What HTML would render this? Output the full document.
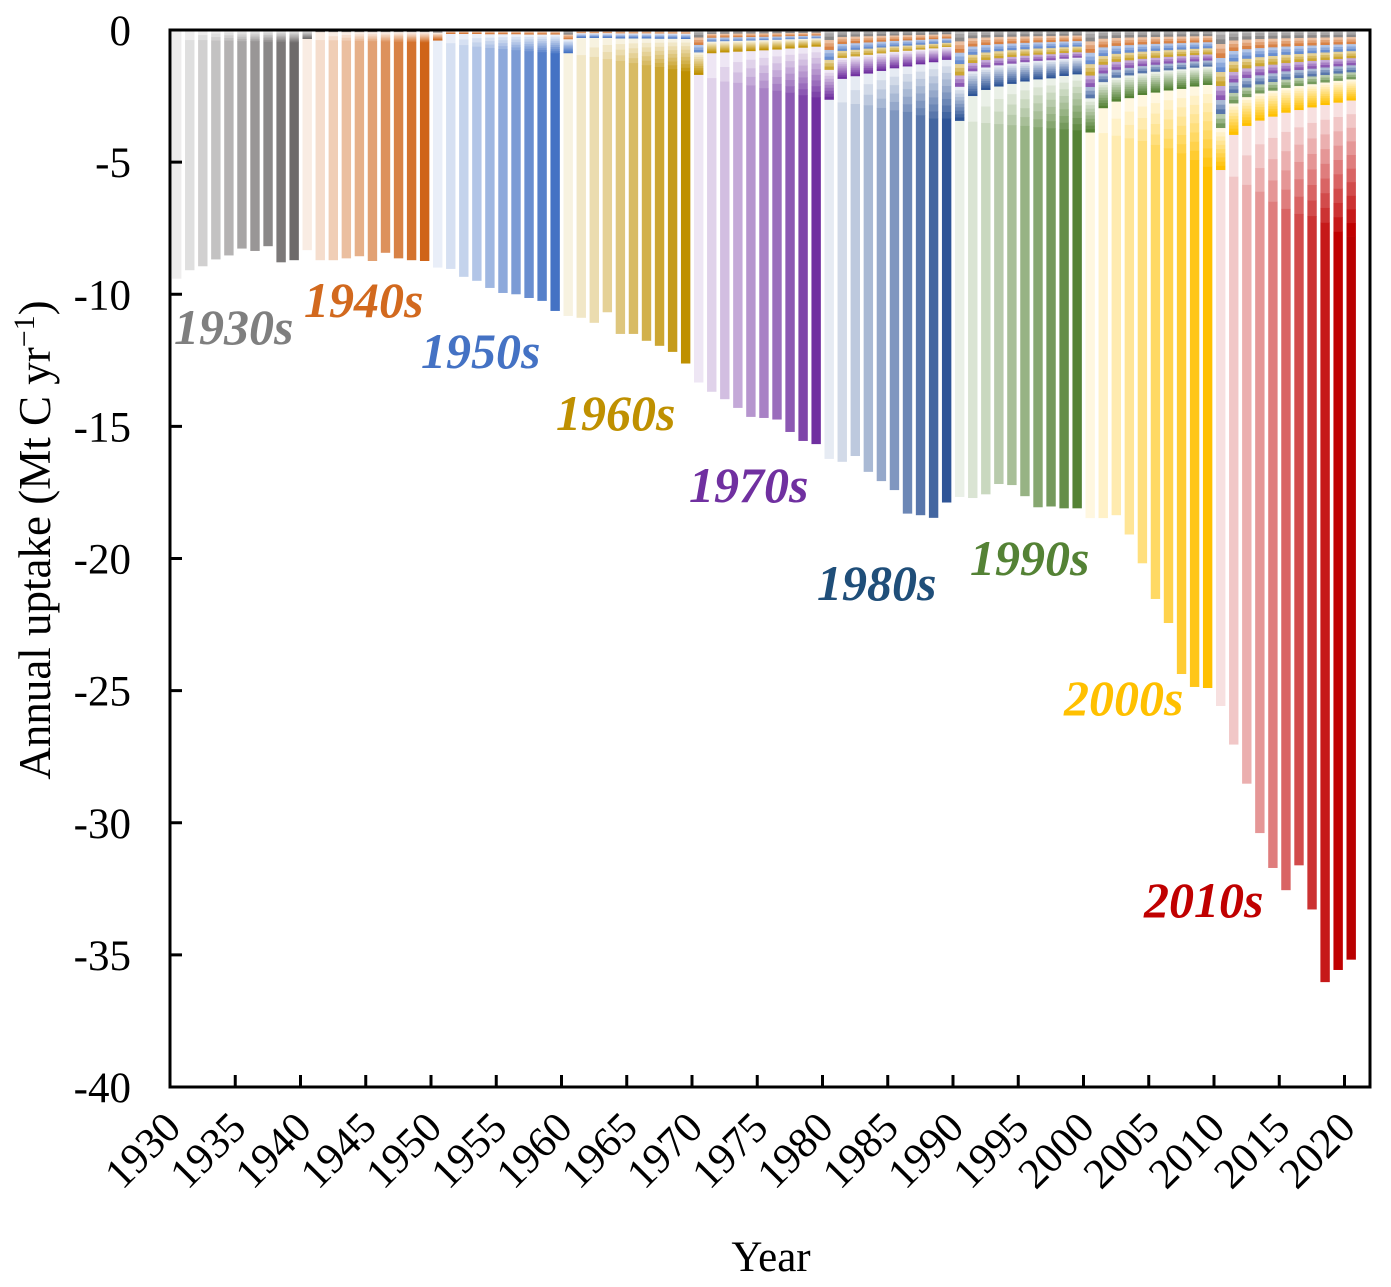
<!DOCTYPE html>
<html><head><meta charset="utf-8"><style>
html,body{margin:0;padding:0;background:#fff;}
svg{display:block;font-family:"Liberation Serif","Times New Roman",serif;}
</style></head><body>
<svg id="chart" width="1391" height="1287" viewBox="0 0 1391 1287" xmlns="http://www.w3.org/2000/svg">
<g id="bars"></g>
<g id="axes"></g>
<g id="labels"></g>
<text transform="translate(50,540) rotate(-90)" text-anchor="middle" font-size="45">Annual uptake (Mt C yr<tspan baseline-shift="super" font-size="30">−1</tspan>)</text>
<text x="771" y="1271" text-anchor="middle" font-size="43">Year</text>
</svg>
<script>
const years = [];
for (let y = 1930; y <= 2020; y++) years.push(y);
const totals = [
9.40,9.08,8.93,8.67,8.52,8.26,8.35,8.17,8.78,8.70,
8.32,8.70,8.70,8.63,8.55,8.73,8.42,8.63,8.70,8.73,
8.98,9.03,9.33,9.48,9.75,9.94,9.99,10.13,10.24,10.62,
10.81,10.88,11.07,10.67,11.49,11.49,11.75,11.94,12.17,12.61,
13.33,13.68,13.96,14.29,14.63,14.67,14.73,15.20,15.54,15.66,
16.22,16.33,16.11,16.71,17.06,17.40,18.29,18.35,18.45,17.87,
17.66,17.70,17.56,17.17,17.21,17.63,18.05,18.02,18.09,18.09,
18.46,18.46,18.35,19.08,20.17,21.52,22.43,24.36,24.85,24.89,
25.57,27.03,28.51,30.38,31.70,32.54,31.60,33.27,36.02,35.56,
35.17];
const legacy = [
0,0,0,0,0,0,0,0,0,0,
0.34,0.08,0.08,0.08,0.08,0.08,0.08,0.08,0.08,0.08,
0.40,0.15,0.15,0.15,0.16,0.16,0.16,0.17,0.17,0.17,
0.88,0.30,0.30,0.30,0.32,0.32,0.32,0.33,0.33,0.34,
1.70,0.88,0.85,0.82,0.80,0.77,0.74,0.70,0.67,0.63,
2.64,1.85,1.75,1.65,1.55,1.45,1.38,1.30,1.22,1.13,
3.44,2.50,2.27,2.14,2.04,1.95,1.87,1.83,1.74,1.68,
3.88,2.96,2.71,2.58,2.46,2.37,2.29,2.23,2.14,2.08,
5.30,3.97,3.63,3.43,3.28,3.13,3.03,2.93,2.84,2.75,
2.67];
const ownTop = [
0,0.38,0.38,0.40,0.40,0.42,0.42,0.44,0.44,0.46,
0.34,0.38,0.39,0.40,0.41,0.42,0.43,0.44,0.45,0.46,
0.40,0.50,0.57,0.63,0.68,0.72,0.76,0.80,0.84,0.88,
0.88,0.95,1.02,1.10,1.17,1.25,1.33,1.40,1.48,1.56,
1.70,1.82,1.95,2.00,2.10,2.20,2.30,2.37,2.47,2.55,
2.64,2.74,2.80,2.85,2.95,3.04,3.10,3.23,3.35,3.35,
3.44,3.47,3.52,3.56,3.60,3.63,3.68,3.72,3.76,3.80,
3.88,3.90,4.00,4.10,4.20,4.35,4.48,4.67,4.92,5.17,
5.30,5.55,5.86,6.12,6.50,6.77,6.96,7.04,7.29,7.63,
7.82];
const decadeNames = ["1930s","1940s","1950s","1960s","1970s","1980s","1990s","2000s","2010s"];
const yTicks = [0,-5,-10,-15,-20,-25,-30,-35,-40];
const xTicks = [1930,1935,1940,1945,1950,1955,1960,1965,1970,1975,1980,1985,1990,1995,2000,2005,2010,2015,2020];

const baseColors = ["#6e6b6b","#cf6419","#4472c4","#bf9000","#7030a0","#2f5597","#548235","#ffc000","#c00000"];
const labelColors = ["#7f7f7f","#d2691e","#4472c4","#bf9000","#7030a0","#1f4e79","#548235","#ffc000","#c00000"];
const labelPos = [[174,344],[304,317],[421,368],[556,430],[689,502],[817,600],[970,575],[1064,715],[1144,917]];

const NS = "http://www.w3.org/2000/svg";
const X0 = 170, XS = 13.05, Y0 = 30, YS = 1057/40;
function xScale(yr){ return X0 + (yr-1930)*XS; }
function yScale(v){ return Y0 + v*YS; }
function hex(c){ return [parseInt(c.slice(1,3),16),parseInt(c.slice(3,5),16),parseInt(c.slice(5,7),16)]; }
function shade(d,i){
  const b = hex(baseColors[d]); const f = (9-i)/9*0.88;
  const m = b.map(v=>Math.round(v+(255-v)*f));
  return "rgb("+m.join(",")+")";
}
function mk(tag, attrs, parent){
  const e = document.createElementNS(NS, tag);
  for (const k in attrs) e.setAttribute(k, attrs[k]);
  parent.appendChild(e); return e;
}
const gBars = document.getElementById("bars");
function seg(parent, x, a, b, color){
  if (b - a <= 0) return;
  const r = mk("rect", {x: x.toFixed(2), y: yScale(a).toFixed(2), width: 9.4, height: (yScale(b)-yScale(a)+0.3).toFixed(2), fill: color}, parent);
  
  
}
years.forEach((yr, idx) => {
  const d = Math.min(8, Math.floor((yr-1930)/10));
  const i = (yr-1930) - d*10;
  const g = mk("g", {}, gBars);
  
  
  const x = xScale(yr) + 2;
  const L = legacy[idx];
  if (d > 0 && L > 0) {
    const w = []; let sw = 0;
    for (let k = 0; k < d; k++) { const wk = (k === d-1) ? 3 : 1; w.push(wk); sw += wk; }
    let cur = 0;
    for (let k = 0; k < d; k++) {
      const h = L * w[k] / sw;
      const n = (k === d-1) ? 10 : 3;
      for (let s = 0; s < n; s++) {
        const si = (k === d-1) ? s : 3 + 2*s;
        seg(g, x, cur + h*s/n, cur + h*(s+1)/n, shade(k, si));
      }
      cur += h;
    }
  }
  const T = Math.max(ownTop[idx], L);
  if (i > 0 && T > L) {
    for (let s = 0; s < i; s++) seg(g, x, L + (T-L)*s/i, L + (T-L)*(s+1)/i, shade(d, s));
  }
  seg(g, x, T, totals[idx], shade(d, i));
});

const gA = document.getElementById("axes");
const frame = mk("rect", {x: X0, y: Y0, width: 1370-X0, height: 1087-Y0, fill: "none", stroke: "#000", "stroke-width": 3}, gA);


yTicks.forEach(t => {
  const y = yScale(-t);
  const tk = mk("line", {x1: X0, x2: X0+12, y1: y, y2: y, stroke: "#000", "stroke-width": 3}, gA);
  
  
  const tx = mk("text", {x: 131, y: y+15, "text-anchor": "end", "font-size": 43}, gA);
  tx.textContent = String(t);
  
  
});
xTicks.forEach(t => {
  const x = xScale(t);
  const tk = mk("line", {x1: x, x2: x, y1: 1087, y2: 1075, stroke: "#000", "stroke-width": 3}, gA);
  
  
  const tx = mk("text", {transform: "translate(" + (x+13) + ",1130) rotate(-45)", "text-anchor": "end", "font-size": 43}, gA);
  tx.textContent = String(t);
  
  
});

const gL = document.getElementById("labels");
decadeNames.forEach((nm, k) => {
  const t = mk("text", {x: labelPos[k][0], y: labelPos[k][1], fill: labelColors[k], "font-size": 50, "font-weight": "bold", "font-style": "italic"}, gL);
  t.textContent = nm;
  
  
});
</script>
</body></html>
